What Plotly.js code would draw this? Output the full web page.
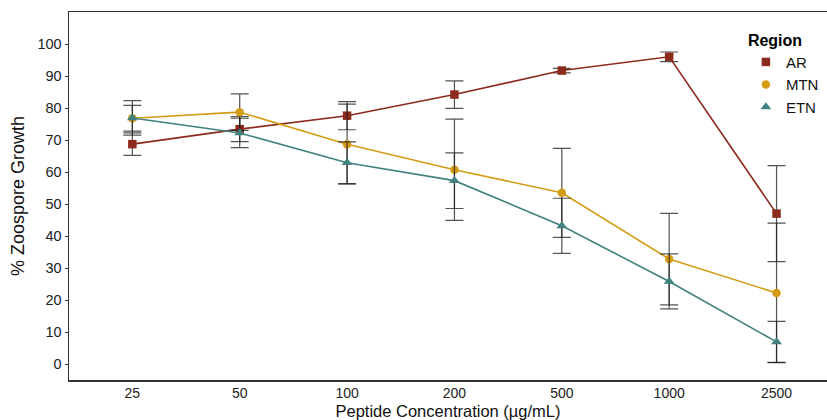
<!DOCTYPE html>
<html>
<head>
<meta charset="utf-8">
<script src="https://cdn.plot.ly/plotly-3.0.1.min.js"></script>
<style>html,body{margin:0;padding:0;background:#fff}#chart{width:827px;height:420px}</style>
</head>
<body>
<div id="chart"></div>
<script>
const concentrations = ["25", "50", "100", "200", "500", "1000", "2500"];
const arValues  = [68.7, 73.4, 77.6, 84.2, 91.7, 96.0, 47.0];
const arErr     = [3.5, 3.9, 4.4, 4.3, 0.7, 1.5, 15.0];
const mtnValues = [76.8, 78.7, 68.7, 60.7, 53.5, 32.8, 22.2];
const mtnErr    = [4.0, 5.7, 12.5, 15.8, 13.9, 14.3, 21.8];
const etnValues = [76.9, 72.2, 62.9, 57.3, 43.2, 25.8, 6.9];
const etnErr    = [5.4, 4.6, 6.5, 8.7, 8.6, 8.6, 6.4];
const regions = ["AR", "MTN", "ETN"];
const yTicks = [0, 10, 20, 30, 40, 50, 60, 70, 80, 90, 100];

const colors = {AR: "#8C2B1D", MTN: "#D49B14", ETN: "#41817E"};
const symbols = {AR: "square", MTN: "circle", ETN: "triangle-up"};
const seriesVals = {AR: arValues, MTN: mtnValues, ETN: etnValues};
const seriesErr = {AR: arErr, MTN: mtnErr, ETN: etnErr};
const sizes = {AR: 8.5, MTN: 8.5, ETN: 9.5};

const traces = [];
regions.forEach(r => {
  traces.push({
    type: "scatter", mode: "lines+markers", name: r, showlegend: false,
    x: concentrations, y: seriesVals[r],
    line: {color: colors[r], width: 1.6},
    marker: {color: colors[r], symbol: symbols[r], size: sizes[r]},
    error_y: {type: "data", array: seriesErr[r], visible: true,
              color: "rgba(25,25,25,0.75)", thickness: 1.2, width: 9}
  });
});
regions.forEach(r => {
  traces.push({
    type: "scatter", mode: "markers", name: r, showlegend: true,
    x: [null], y: [null],
    marker: {color: colors[r], symbol: symbols[r], size: sizes[r]}
  });
});

const layout = {
  width: 827, height: 420,
  margin: {l: 69, r: 0, t: 12, b: 40},
  paper_bgcolor: "#fff", plot_bgcolor: "#fff",
  font: {family: "Liberation Sans, Arial, sans-serif", color: "#1a1a1a"},
  showlegend: true,
  legend: {
    x: 0.893, y: 0.965, xanchor: "left", yanchor: "top",
    bgcolor: "rgba(0,0,0,0)",
    title: {text: "<b>Region</b>", font: {size: 16, color: "#000"}},
    font: {size: 15, color: "#111"},
    itemwidth: 30, tracegroupgap: 0
  },
  xaxis: {
    type: "category", range: [-0.59, 6.47],
    showline: true, linecolor: "#333", linewidth: 1.5, mirror: true,
    showgrid: false, zeroline: false, ticks: "",
    tickfont: {size: 14, color: "#222"},
    title: {text: "Peptide Concentration (µg/mL)", font: {size: 16.5, color: "#111"}, standoff: 6}
  },
  yaxis: {
    range: [-5, 110],
    tickvals: yTicks, ticktext: yTicks.map(String),
    showline: true, linecolor: "#333", linewidth: 1.5,
    showgrid: false, zeroline: false,
    ticks: "outside", ticklen: 3, tickwidth: 1, tickcolor: "#333",
    tickfont: {size: 14.5, color: "#222"},
    title: {text: "% Zoospore Growth", font: {size: 18, color: "#111"}, standoff: 8}
  }
};

Plotly.newPlot("chart", traces, layout, {displayModeBar: false, staticPlot: true});
</script>
</body>
</html>
